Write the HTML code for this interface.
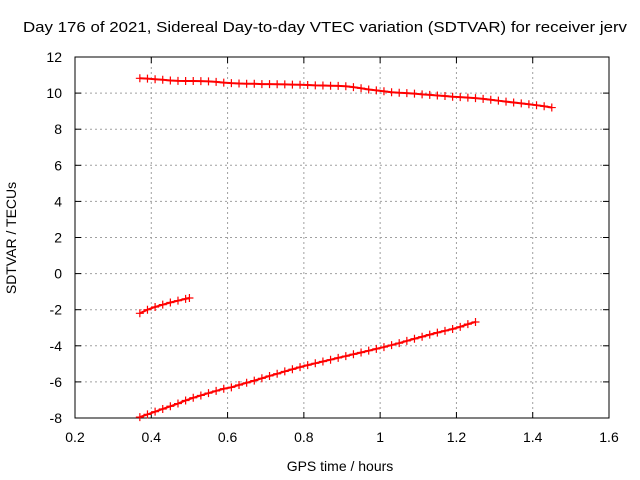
<!DOCTYPE html>
<html><head><meta charset="utf-8"><style>
body{margin:0;background:#fff}
svg{display:block;font-family:"Liberation Sans",sans-serif}
</style></head><body>
<svg id="chart" width="640" height="480">
<rect width="640" height="480" fill="#fff"/>
<text x="325" y="32" text-anchor="middle" font-size="15" textLength="604" lengthAdjust="spacingAndGlyphs">Day 176 of 2021, Sidereal Day-to-day VTEC variation (SDTVAR) for receiver jerv</text>
<g id="grid"></g>
<g id="axes"></g>
<g id="series"></g>
<text x="340" y="471" text-anchor="middle" font-size="14">GPS time / hours</text>
<text transform="translate(16,238) rotate(-90)" text-anchor="middle" font-size="14">SDTVAR / TECUs</text>
</svg>
<script>
const xTicks=[0.2,0.4,0.6,0.8,1,1.2,1.4,1.6];
const yTicks=[-8,-6,-4,-2,0,2,4,6,8,10,12];
const x1=[0.37,0.39,0.41,0.43,0.45,0.47,0.49,0.51,0.53,0.55,0.57,0.59,0.61,0.63,0.65,0.67,0.69,0.71,0.73,0.75,0.77,0.79,0.81,0.83,0.85,0.87,0.89,0.91,0.93,0.95,0.97,0.99,1.01,1.03,1.05,1.07,1.09,1.11,1.13,1.15,1.17,1.19,1.21,1.23,1.25,1.27,1.29,1.31,1.33,1.35,1.37,1.39,1.41,1.43,1.45];
const y1=[10.82,10.8,10.77,10.74,10.7,10.68,10.67,10.67,10.66,10.65,10.62,10.58,10.55,10.53,10.52,10.52,10.5,10.5,10.49,10.48,10.47,10.46,10.45,10.43,10.42,10.41,10.4,10.38,10.33,10.27,10.2,10.15,10.1,10.05,10.02,10.0,9.97,9.93,9.9,9.87,9.84,9.8,9.78,9.75,9.72,9.68,9.63,9.58,9.53,9.48,9.43,9.38,9.33,9.27,9.2];
const x2=[0.37,0.39,0.41,0.43,0.45,0.47,0.49,0.50];
const y2=[-2.2,-2.0,-1.85,-1.72,-1.6,-1.5,-1.4,-1.35];
const x3=[0.37,0.39,0.41,0.43,0.45,0.47,0.49,0.51,0.53,0.55,0.57,0.59,0.61,0.63,0.65,0.67,0.69,0.71,0.73,0.75,0.77,0.79,0.81,0.83,0.85,0.87,0.89,0.91,0.93,0.95,0.97,0.99,1.01,1.03,1.05,1.07,1.09,1.11,1.13,1.15,1.17,1.19,1.21,1.23,1.25];
const y3=[-7.95,-7.8,-7.65,-7.5,-7.35,-7.2,-7.03,-6.88,-6.75,-6.62,-6.5,-6.38,-6.3,-6.17,-6.05,-5.93,-5.8,-5.67,-5.55,-5.42,-5.3,-5.18,-5.07,-4.97,-4.87,-4.77,-4.67,-4.57,-4.47,-4.37,-4.27,-4.17,-4.07,-3.96,-3.85,-3.73,-3.61,-3.5,-3.38,-3.27,-3.17,-3.07,-2.95,-2.8,-2.68];

const L=75,R=609,T=57,B=418;
const sx=v=>L+(v-0.2)/(1.4)*(R-L);
const sy=v=>B-(v+8)/20*(B-T);
const NS="http://www.w3.org/2000/svg";
function mk(tag,attrs,parent){const e=document.createElementNS(NS,tag);for(const k in attrs)e.setAttribute(k,attrs[k]);parent.appendChild(e);return e;}
const grid=document.getElementById('grid'),axes=document.getElementById('axes'),ser=document.getElementById('series');
xTicks.forEach(t=>{const x=sx(t);
 if(t>0.2&&t<1.6){const g=mk('line',{x1:x,x2:x,y1:T,y2:B,stroke:'#a0a0a0','stroke-dasharray':'2,3'},grid);
 
 }
 mk('line',{x1:x,x2:x,y1:B,y2:B-6,stroke:'#000'},axes);
 mk('line',{x1:x,x2:x,y1:T,y2:T+6,stroke:'#000'},axes);
 const tx=mk('text',{x:x,y:B+24,'text-anchor':'middle','font-size':14},axes);tx.textContent=String(t);
 
 });
yTicks.forEach(t=>{const y=sy(t);
 if(t>-8&&t<12){const g=mk('line',{x1:L,x2:R,y1:y,y2:y,stroke:'#a0a0a0','stroke-dasharray':'2,3'},grid);
 
 }
 mk('line',{x1:L,x2:L+6,y1:y,y2:y,stroke:'#000'},axes);
 mk('line',{x1:R,x2:R-6,y1:y,y2:y,stroke:'#000'},axes);
 const tx=mk('text',{x:L-13,y:y+5,'text-anchor':'end','font-size':14},axes);tx.textContent=String(t);
 
 });
mk('rect',{x:L,y:T,width:R-L,height:B-T,fill:'none',stroke:'#000'},axes);
function series(xs,ys,name){
 const g=mk('g',{},ser);
 
 
 mk('polyline',{points:xs.map((x,i)=>sx(x)+','+sy(ys[i])).join(' '),fill:'none',stroke:'#f00','stroke-width':2},g);
 xs.forEach((x,i)=>{const px=sx(x),py=sy(ys[i]);
  const p=mk('path',{d:`M${px-4},${py}H${px+4}M${px},${py-4}V${py+4}`,stroke:'#f00','stroke-width':1.2},g);
  
  });
}
series(x1,y1,'series-top');
series(x2,y2,'series-short');
series(x3,y3,'series-bottom');
</script>
</body></html>
